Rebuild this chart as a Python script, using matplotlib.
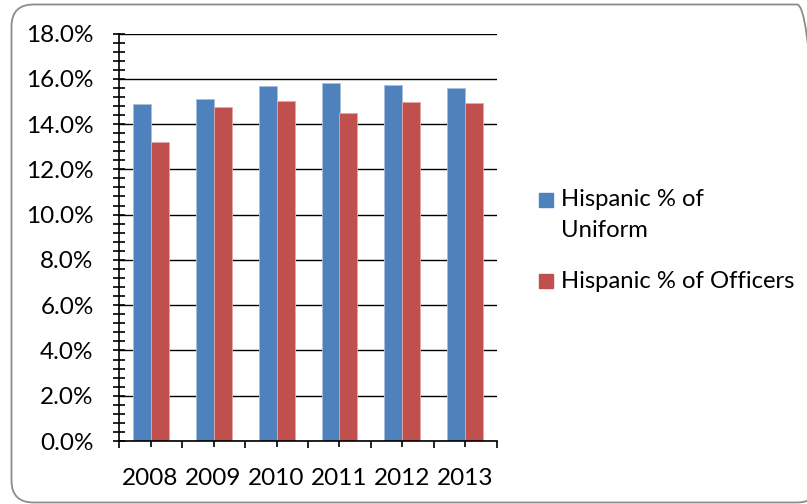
import numpy as np
import matplotlib
matplotlib.use("Agg")
import matplotlib.pyplot as plt
from matplotlib.patches import FancyBboxPatch, Rectangle
from matplotlib.transforms import IdentityTransform
from matplotlib.ticker import FixedLocator, MultipleLocator, PercentFormatter

YEARS = ["2008", "2009", "2010", "2011", "2012", "2013"]
UNIFORM = [14.87, 15.09, 15.69, 15.83, 15.72, 15.58]
OFFICERS = [13.19, 14.74, 15.00, 14.47, 14.97, 14.93]
LABELS = ["Hispanic % of\nUniform", "Hispanic % of Officers"]
COLORS = ["#4F81BD", "#C0504D"]
EDGES = ["#A7C0DE", "#E0A8A6"]

W, H = 807, 504
FS = 17.5
plt.rcParams['font.family'] = ['Lato', 'DejaVu Sans']

fig = plt.figure(figsize=(W / 100, H / 100), dpi=100)
ax = fig.add_axes([119 / W, 1 - 441 / H, (497 - 119) / W, (441 - 33.5) / H])

x = np.arange(len(YEARS))
bw = 1 / 3.5
ax.bar(x - bw / 2, UNIFORM, bw, color=COLORS[0], edgecolor=EDGES[0], linewidth=0.6, zorder=3)
ax.bar(x + bw / 2, OFFICERS, bw, color=COLORS[1], edgecolor=EDGES[1], linewidth=0.6, zorder=3)

ax.set_xlim(-0.5, len(YEARS) - 0.5)
ax.set_ylim(0, 18)
ax.yaxis.set_major_locator(MultipleLocator(2))
ax.yaxis.set_minor_locator(MultipleLocator(0.4))
ax.yaxis.set_major_formatter(PercentFormatter(decimals=1))
ax.grid(axis="y", color="black", linewidth=1.0, zorder=1)

ax.set_xticks(x)
ax.set_xticklabels(YEARS)
ax.xaxis.set_minor_locator(FixedLocator(np.arange(len(YEARS) + 1) - 0.5))

for side in ["top", "right"]:
    ax.spines[side].set_visible(False)
for side in ["left", "bottom"]:
    ax.spines[side].set_linewidth(1.2)
    ax.spines[side].set_zorder(4)

ax.tick_params(axis="y", which="both", direction="inout", length=8.5, width=1.2,
               labelsize=FS, pad=14)
ax.tick_params(axis="x", which="major", direction="inout", length=8.5, width=1.2,
               labelsize=FS, pad=15.5)
ax.tick_params(axis="x", which="minor", direction="out", length=5, width=1.2)

# legend drawn by hand so the square sits on the first line of a wrapped label
leg_y = [200, 281]
for lab, col, yy in zip(LABELS, COLORS, leg_y):
    fig.patches.append(Rectangle((539 / W, 1 - (yy + 7) / H), 14 / W, 14 / H,
                                 transform=fig.transFigure, color=col))
    for i, line in enumerate(lab.split("\n")):
        fig.text(561 / W, 1 - (yy + 31 * i) / H, line, fontsize=17.2, va="center", ha="left")

# chart-area border, in pixels
fig.patches.append(FancyBboxPatch((11.5, 1.5), 807.5, 498,
                                  boxstyle="round,pad=0,rounding_size=22",
                                  transform=IdentityTransform(), facecolor="none",
                                  edgecolor="#8C8C8C", linewidth=1.3))

fig.savefig("out.png", dpi=100)
